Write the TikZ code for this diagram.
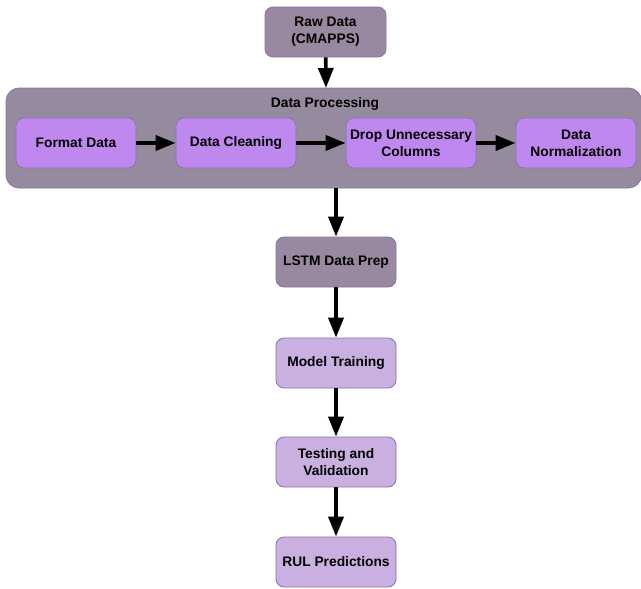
\documentclass[tikz,border=0pt]{standalone}
\usepackage{fontspec}
\setmainfont{Liberation Sans}
\usetikzlibrary{arrows.meta,positioning}
\definecolor{darkbox}{HTML}{9A88A0}
\definecolor{contfill}{HTML}{968A9E}
\definecolor{innerbox}{HTML}{BF88EE}
\definecolor{lightbox}{HTML}{C9B0E0}
\definecolor{edgec}{HTML}{8577A8}
\tikzset{
  x=1pt,y=-1pt,
  boxbase/.style={draw=edgec, line width=0.8pt, rounded corners=8pt, align=center,
    font=\fontsize{13.8}{17}\selectfont\bfseries, minimum height=50pt, inner sep=0pt},
  darkstep/.style={boxbase, fill=darkbox, minimum width=120pt},
  lightstep/.style={boxbase, fill=lightbox, minimum width=120pt},
  innerstep/.style={boxbase, fill=innerbox},
  container/.style={draw=edgec, line width=0.8pt, fill=contfill, rounded corners=13pt},
  flow/.style={line width=3.6pt, -{Triangle[length=20pt,width=15pt]}, shorten >=0pt}
}
\begin{document}
\begin{tikzpicture}
\useasboundingbox (0,0) rectangle (641,589);
\fill[white] (0,0) rectangle (641,589);
% container
\path[container] (6,88) rectangle (641.5,188);
\coordinate (contTop) at (326,88);
\coordinate (contBot) at (336,188);
\node[font=\fontsize{13.8}{17}\selectfont\bfseries] (title) at (325,104) {Data Processing};
% top box
\node[darkstep, minimum width=121pt] (raw) at (325.5,32) {Raw Data\\(CMAPPS)};
% inner boxes
\node[innerstep, minimum width=120pt] (fmt) at (76,143) {Format Data};
\node[innerstep, minimum width=120pt] (clean) at (236,143) {Data Cleaning};
\node[innerstep, minimum width=130pt] (drop) at (411,143) {Drop Unnecessary\\Columns};
\node[innerstep, minimum width=120pt] (norm) at (576,143) {Data\\Normalization};
% vertical boxes
\node[darkstep] (lstm) at (336,262) {LSTM Data Prep};
\node[lightstep] (train) at (336,363) {Model Training};
\node[lightstep] (test) at (336,462) {Testing and\\Validation};
\node[lightstep] (rul) at (336,562) {RUL Predictions};
% arrows
\draw[flow] (raw) -- (contTop);
\draw[flow] (fmt) -- (clean);
\draw[flow] (clean) -- (drop);
\draw[flow] (drop) -- (norm);
\draw[flow] (contBot) -- (lstm);
\draw[flow] (lstm) -- (train);
\draw[flow] (train) -- (test);
\draw[flow] (test) -- (rul);
\end{tikzpicture}
\end{document}
